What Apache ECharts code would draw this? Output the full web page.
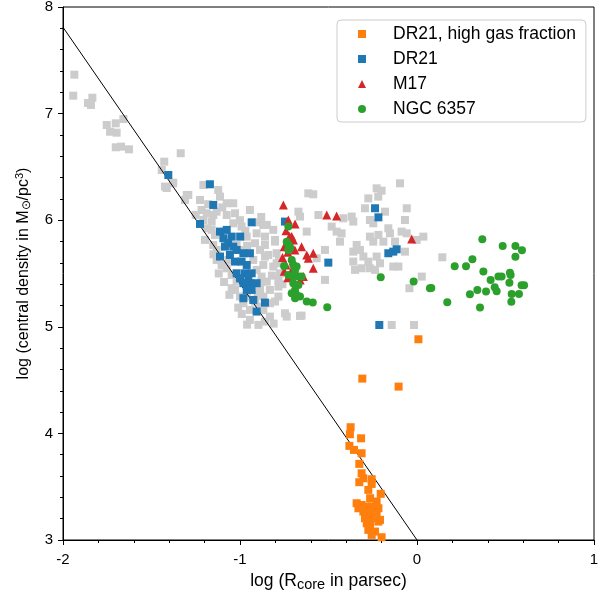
<!DOCTYPE html>
<html><head><meta charset="utf-8">
<script src="https://cdn.jsdelivr.net/npm/echarts@6/dist/echarts.min.js"></script>
<style>html,body{margin:0;padding:0;background:#fff}#c{width:609px;height:594px}</style>
</head><body><div id="c"></div>
<script>
const xTicks = [-2, -1, 0, 1];
const yTicks = [3, 4, 5, 6, 7, 8];
const fitLine = [[-2, 7.81], [0, 3.0]];
const gray = [
[-1.936,7.365],[-1.942,7.168],[-1.834,7.149],[-1.859,7.099],[-1.842,7.081],
[-1.753,6.893],[-1.702,6.909],[-1.659,6.949],[-1.734,6.830],[-1.697,6.821],
[-1.702,6.684],[-1.672,6.690],[-1.627,6.665],[-1.335,6.628],[-1.428,6.549],
[-1.442,6.471],[-1.379,6.352],[-1.414,6.302],[-1.123,6.283],[-1.301,6.236],
[-1.424,6.315],[-1.377,6.346],[-1.207,6.330],[-1.113,6.221],[-1.292,6.237],[-1.311,6.190],[-1.226,6.190],
[-1.075,6.159],[-1.038,6.159],[-1.217,6.096],[-1.188,6.065],[-1.151,6.049],[-1.132,6.080],[-1.075,6.049],
[-1.028,6.065],[-0.944,6.096],[-1.207,6.002],[-1.160,5.987],[-1.188,5.924],[-1.160,5.909],[-1.141,5.862],
[-1.198,5.815],[-1.151,5.768],[-1.132,5.721],[-1.132,5.627],[-1.104,5.580],[-1.075,5.549],[-1.047,5.487],
[-1.019,5.424],[-1.028,5.346],[-1.000,5.284],[-0.981,5.221],[-0.944,5.159],[-0.944,5.065],[-0.896,5.018],
[-0.868,5.159],[-0.868,5.284],[-0.831,5.346],[-0.887,5.346],[-0.849,5.424],[-0.878,5.471],[-0.906,5.534],
[-0.868,5.580],[-0.859,5.659],[-0.887,5.721],[-0.859,5.768],[-0.915,5.784],[-0.906,5.877],[-0.849,5.956],
[-0.812,5.909],[-0.859,5.846],[-0.802,5.799],[-0.793,5.690],[-0.840,5.674],[-0.793,5.596],[-0.774,5.502],
[-0.783,5.377],[-0.736,5.096],[-0.652,5.105],[-0.783,5.284],[-0.831,5.221],[-0.831,5.096],[-0.859,5.049],
[-0.670,6.080],[-0.614,6.252],[-1.038,5.971],[-0.991,5.940],[-1.075,5.815],[-1.019,5.768],[-0.962,5.846],
[-0.925,5.627],[-1.066,5.627],[-1.047,5.362],[-0.962,5.284],[-0.915,5.237],[-1.000,6.000],[-0.970,5.900],
[-1.100,6.120],[-1.250,6.050],[-1.180,6.150],[-1.000,5.720],[-0.960,5.760],[-0.900,5.980],[-0.820,5.480],
[-1.120,5.500],[-1.090,5.420],[-1.060,5.300],[-1.010,5.180],[-0.990,5.120],[-0.960,5.020],[-1.150,5.680],
[-0.880,5.420],[-0.900,5.300],[-0.890,5.190],[-0.810,5.030],[-0.760,5.400],[-0.780,5.620],[-0.880,6.030],
[-0.096,6.346],[-0.228,6.299],[-0.200,6.277],[-0.219,6.221],[-0.275,6.205],[-0.586,6.243],
[-0.661,6.034],[-0.557,6.049],[-0.416,6.018],[-0.369,6.034],[-0.360,5.987],[-0.482,5.940],[-0.454,5.893],
[-0.426,5.877],[-0.623,5.893],[-0.435,5.799],[-0.802,5.815],[-0.868,5.955],
[-0.294,6.112],[-0.181,6.080],[-0.266,6.002],[-0.247,5.971],[-0.058,6.112],[-0.068,6.002],[-0.087,5.893],
[-0.058,5.877],[0.036,5.846],[-0.002,5.815],[-0.162,5.924],[-0.153,5.877],[-0.218,5.862],[-0.266,5.846],
[-0.247,5.799],[-0.190,5.799],[-0.124,5.799],[-0.341,5.768],[-0.360,5.705],[-0.322,5.721],[-0.303,5.659],
[-0.275,5.612],[-0.228,5.659],[-0.209,5.596],[-0.266,5.549],[-0.360,5.612],[-0.350,5.534],[-0.313,5.549],
[-0.237,5.534],[-0.134,5.565],[-0.105,5.565],[-0.520,5.721],[-0.520,5.440],[-0.068,5.705],[0.027,5.471],
[-0.043,5.362],[-0.567,5.643],[-0.812,5.565],[-0.783,5.440],[-0.746,5.127],[-0.661,5.102],[-0.802,5.237],
[-0.143,5.017],[-0.017,5.017],[0.143,5.652]
];
const dr21 = [
[-1.405,6.424],[-1.170,6.337],[-1.151,6.143],[-0.934,5.980],[-1.226,5.965],[-1.113,5.893],[-1.075,5.909],
[-1.047,5.846],[-0.999,5.846],[-1.094,5.831],[-1.066,5.784],[-1.038,5.752],[-1.085,5.752],[-1.019,5.721],
[-0.981,5.690],[-0.944,5.690],[-1.057,5.674],[-1.113,5.659],[-1.028,5.612],[-0.991,5.612],[-0.962,5.580],
[-1.019,5.502],[-0.972,5.502],[-0.934,5.502],[-1.000,5.455],[-0.953,5.455],[-0.981,5.409],[-0.944,5.409],
[-0.906,5.409],[-0.962,5.346],[-0.934,5.346],[-0.981,5.268],[-0.925,5.252],[-0.859,5.227],[-0.906,5.143],
[-0.746,5.987],[-0.501,5.602],[-0.237,6.112],[-0.218,6.027],[-0.162,5.690],[-0.134,5.705],[-0.115,5.727],
[-0.213,5.017]
];
const dr21High = [
[0.008,4.883],[-0.309,4.514],[-0.104,4.439],[-0.375,4.058],[-0.379,3.992],[-0.316,3.954],[-0.382,3.883],
[-0.356,3.845],[-0.313,3.814],[-0.326,3.714],[-0.313,3.626],[-0.303,3.579],[-0.256,3.570],[-0.326,3.542],
[-0.256,3.526],[-0.275,3.470],[-0.205,3.433],[-0.265,3.392],[-0.228,3.361],[-0.341,3.345],[-0.313,3.329],
[-0.284,3.314],[-0.256,3.314],[-0.218,3.298],[-0.331,3.298],[-0.303,3.267],[-0.265,3.251],[-0.228,3.251],
[-0.294,3.204],[-0.256,3.204],[-0.209,3.189],[-0.284,3.157],[-0.265,3.142],[-0.218,3.173],[-0.275,3.095],
[-0.237,3.079],[-0.256,3.048],[-0.200,3.026]
];
const m17 = [
[-0.755,6.143],[-0.727,6.002],[-0.689,5.965],[-0.708,5.846],[-0.698,5.815],[-0.652,5.752],[-0.623,5.674],
[-0.642,5.471],[-0.586,5.690],[-0.614,5.643],[-0.586,5.549],[-0.510,6.049],[-0.454,6.040],[-0.030,5.824],
[-0.74,5.90],[-0.72,5.85],[-0.75,5.75],[-0.73,5.70],[-0.76,5.65],[-0.70,5.62],[-0.74,5.58],[-0.71,5.52],
[-0.68,5.50],[-0.73,5.46],[-0.66,5.44],[-0.69,5.72],[-0.75,5.52],[-0.72,5.78]
];
const ngc6357 = [
[-0.727,5.940],[-0.736,5.799],[-0.717,5.737],[-0.727,5.770],[-0.718,5.752],[-0.727,5.721],[-0.708,5.627],
[-0.699,5.580],[-0.680,5.565],[-0.689,5.534],[-0.751,5.571],[-0.727,5.487],[-0.699,5.471],[-0.670,5.471],
[-0.652,5.471],[-0.699,5.409],[-0.670,5.393],[-0.689,5.346],[-0.708,5.315],[-0.680,5.299],[-0.661,5.284],
[-0.689,5.268],[-0.623,5.237],[-0.589,5.227],[-0.507,5.184],[-0.205,5.465],[-0.019,5.424],[0.073,5.362],
[0.369,5.821],[0.484,5.758],[0.556,5.758],[0.593,5.718],[0.556,5.658],[0.313,5.633],[0.213,5.568],
[0.277,5.568],[0.375,5.518],[0.460,5.471],[0.478,5.471],[0.525,5.508],[0.529,5.486],[0.416,5.440],
[0.522,5.414],[0.439,5.371],[0.450,5.333],[0.341,5.346],[0.390,5.330],[0.299,5.305],[0.535,5.308],
[0.576,5.308],[0.591,5.389],[0.605,5.389],[0.533,5.236],[0.171,5.230],[0.356,5.180],[0.081,5.364]
];

const FONT = '"Liberation Sans", Arial, sans-serif';
const chart = echarts.init(document.getElementById('c'), null, {renderer: 'canvas'});
chart.setOption({
  animation: false,
  backgroundColor: '#fff',
  textStyle: {fontFamily: FONT},
  grid: {left: 63, right: 15, top: 7, bottom: 54, show: true, borderColor: '#000', borderWidth: 1,
         containLabel: false, outerBoundsMode: 'none'},
  legend: {
    orient: 'vertical', left: 337, top: 20,
    padding: [5, 10, 4, 21],
    itemGap: 7, itemWidth: 8, itemHeight: 8,
    borderColor: '#cccccc', borderWidth: 1, borderRadius: 4,
    backgroundColor: '#fff',
    textStyle: {fontSize: 17.5, color: '#000', fontFamily: FONT, padding: [0, 0, 0, 22]},
    data: [
      {name: 'DR21, high gas fraction', icon: 'rect'},
      {name: 'DR21', icon: 'rect'},
      {name: 'M17', icon: 'triangle'},
      {name: 'NGC 6357', icon: 'circle'}
    ]
  },
  xAxis: {
    type: 'value', min: xTicks[0], max: xTicks[xTicks.length - 1], interval: 1,
    splitLine: {show: false},
    axisLine: {onZero: false, lineStyle: {color: '#000', width: 1}},
    axisTick: {show: true, length: 5, lineStyle: {color: '#000'}},
    minorTick: {show: true, splitNumber: 5, length: 3, lineStyle: {color: '#000'}},
    axisLabel: {fontSize: 15, color: '#000', fontFamily: FONT, margin: 12},
    name: 'log (R{sub|core} in parsec)',
    nameLocation: 'middle', nameGap: 28,
    nameTextStyle: {fontSize: 17.5, color: '#000', fontFamily: FONT,
      rich: {sub: {fontSize: 14.5, fontFamily: FONT, color: '#000', padding: [8, 0, 0, 0]}}}
  },
  yAxis: {
    type: 'value', min: yTicks[0], max: yTicks[yTicks.length - 1], interval: 1,
    splitLine: {show: false},
    axisLine: {show: true, onZero: false, lineStyle: {color: '#000', width: 1}},
    axisTick: {show: true, length: 5, lineStyle: {color: '#000'}},
    minorTick: {show: true, splitNumber: 5, length: 3, lineStyle: {color: '#000'}},
    axisLabel: {fontSize: 15, color: '#000', fontFamily: FONT, margin: 10},
    name: 'log (central density in M{sub|⊙}/pc{sup|3})',
    nameLocation: 'middle', nameGap: 30,
    nameTextStyle: {fontSize: 16, color: '#000', fontFamily: FONT,
      rich: {
        sub: {fontSize: 12, fontFamily: FONT, color: '#000', padding: [7, 0, 0, 0]},
        sup: {fontSize: 11, fontFamily: FONT, color: '#000', padding: [0, 0, 8, 0]}
      }}
  },
  series: [
    {type: 'scatter', name: 'other', data: gray, symbol: 'rect', symbolSize: 8,
     itemStyle: {color: '#cccccc', opacity: 1}, silent: true, z: 1},
    {type: 'line', name: 'fit', data: fitLine, symbol: 'none',
     lineStyle: {color: '#000', width: 1}, silent: true, z: 2},
    {type: 'scatter', name: 'DR21', data: dr21, symbol: 'rect', symbolSize: 8,
     itemStyle: {color: '#1f77b4', opacity: 1}, z: 3},
    {type: 'scatter', name: 'M17', data: m17, symbol: 'triangle', symbolSize: 9,
     itemStyle: {color: '#d62728', opacity: 1}, z: 4},
    {type: 'scatter', name: 'NGC 6357', data: ngc6357, symbol: 'circle', symbolSize: 8,
     itemStyle: {color: '#2ca02c', opacity: 1}, z: 5},
    {type: 'scatter', name: 'DR21, high gas fraction', data: dr21High, symbol: 'rect', symbolSize: 8,
     itemStyle: {color: '#ff7f0e', opacity: 1}, z: 6}
  ]
});
</script></body></html>
